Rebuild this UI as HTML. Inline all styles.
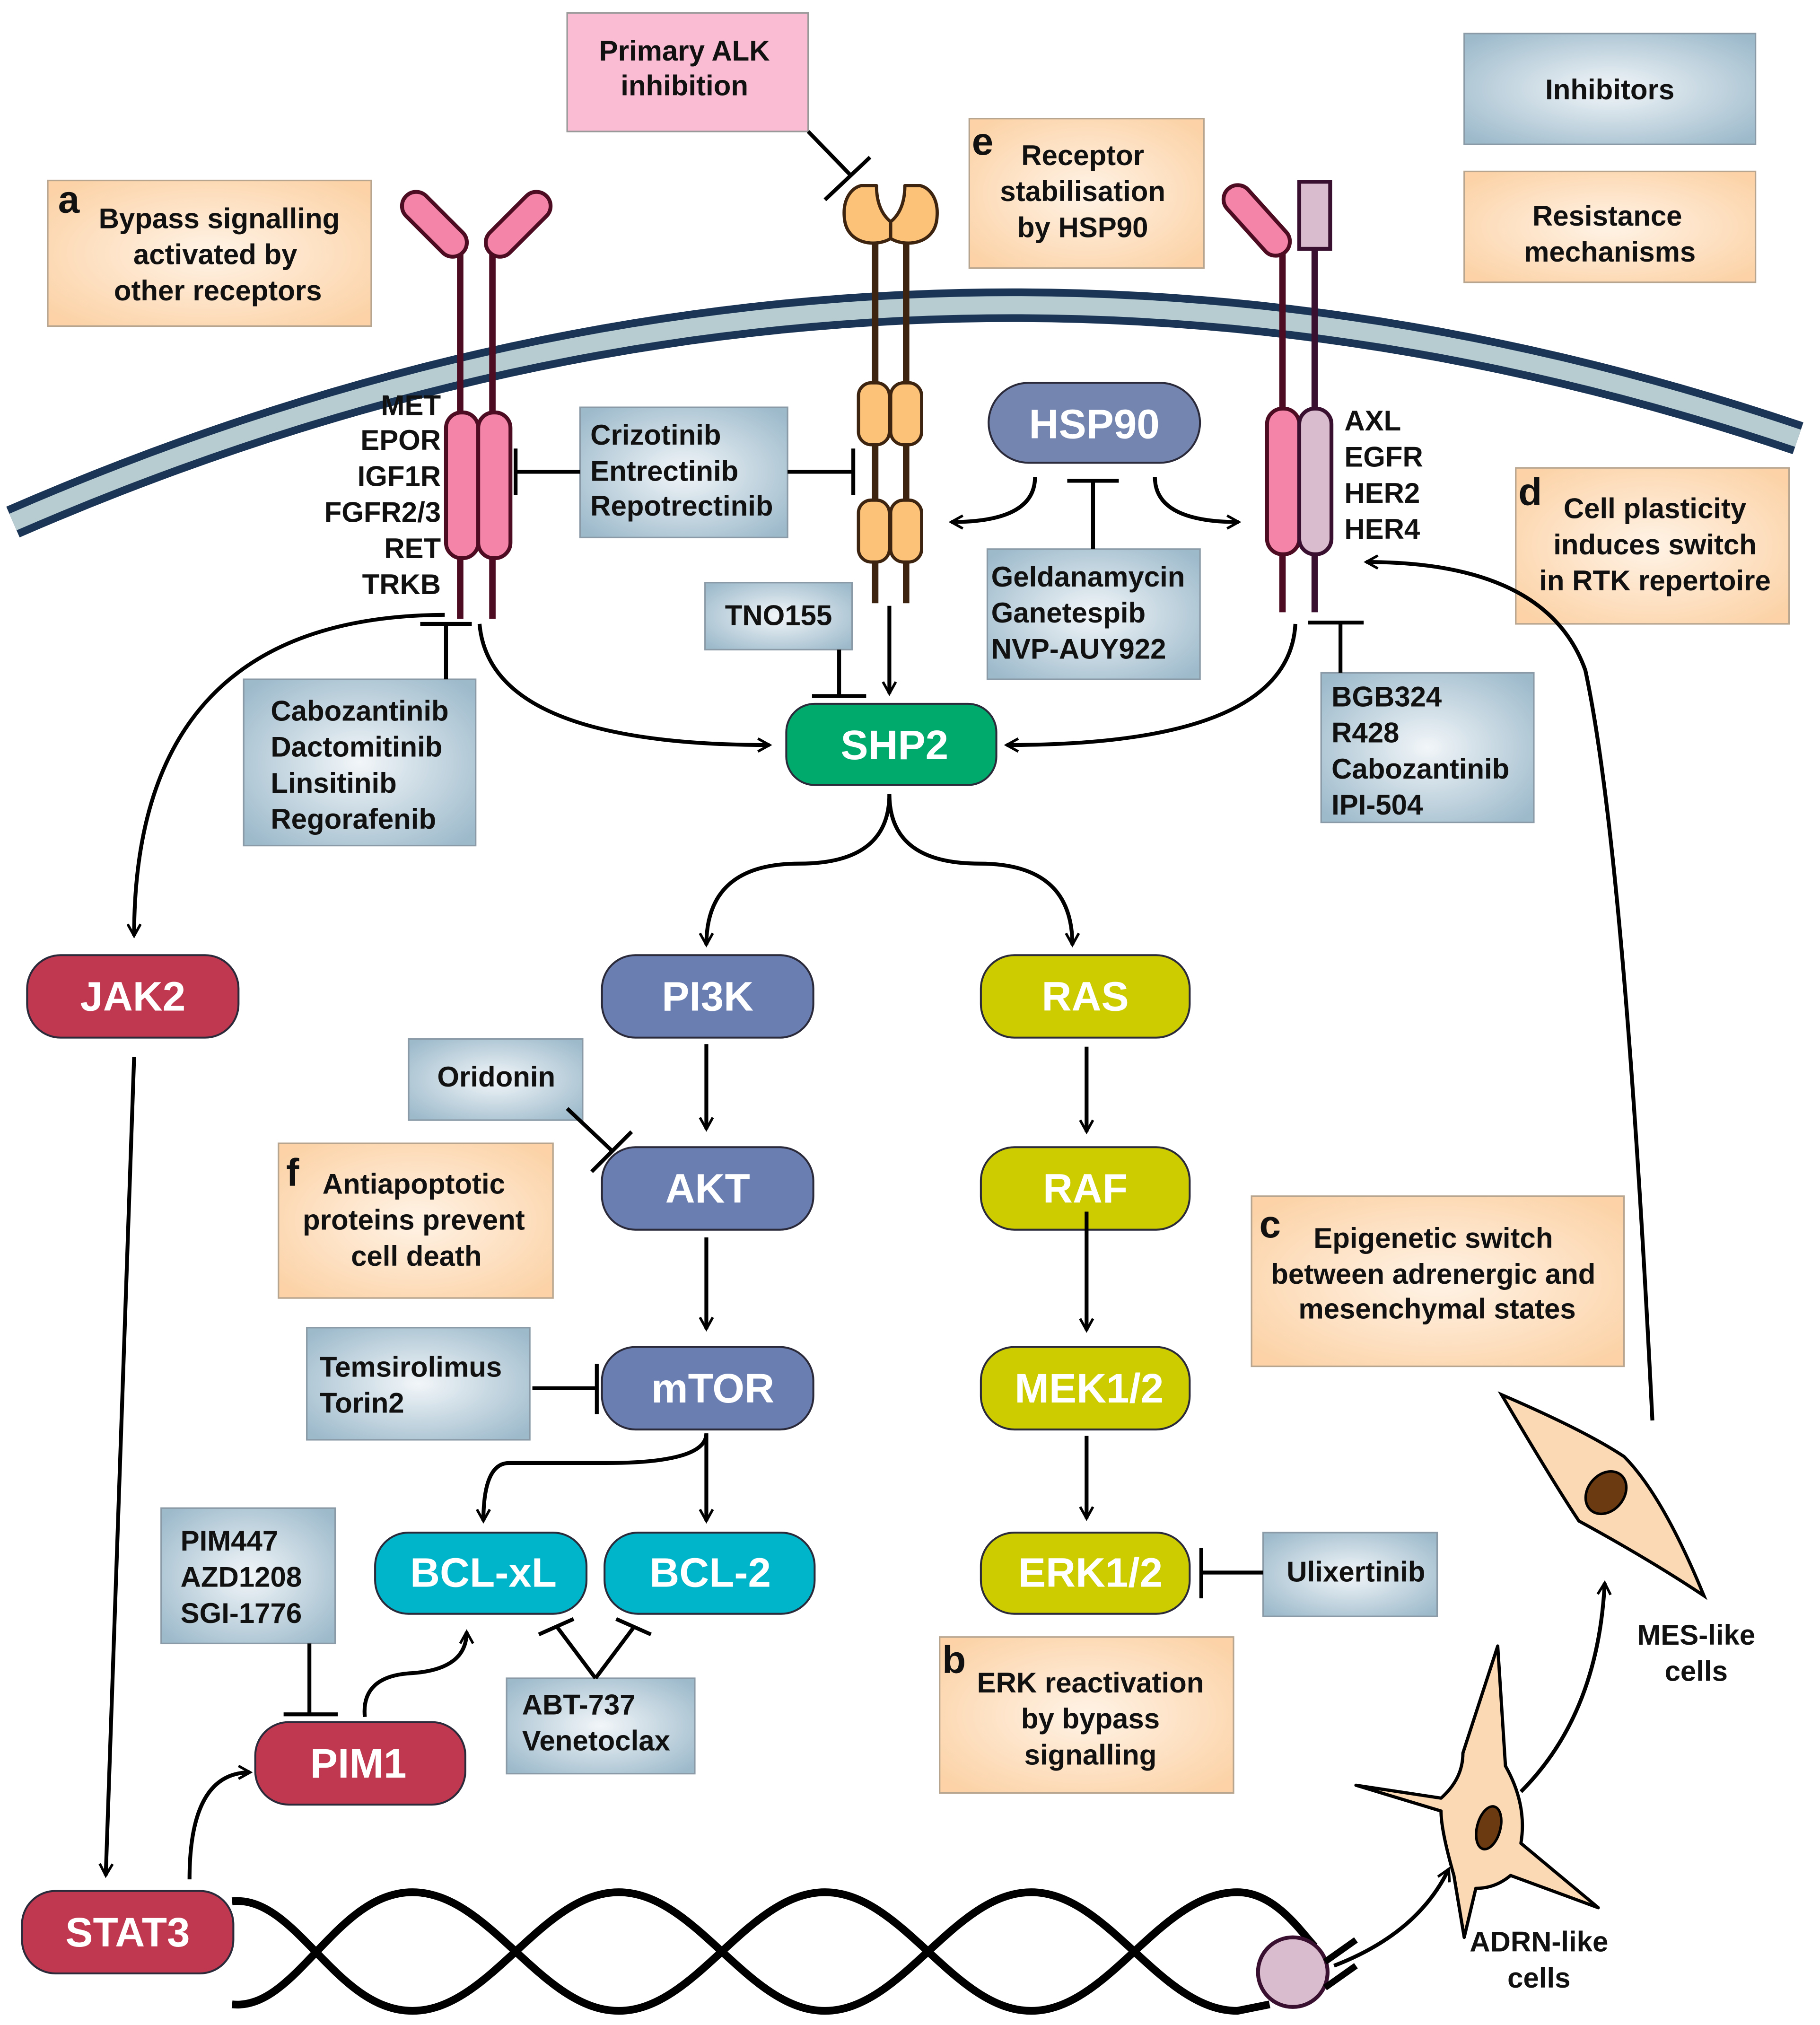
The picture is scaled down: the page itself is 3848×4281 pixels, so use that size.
<!DOCTYPE html>
<html><head><meta charset="utf-8"><style>html,body{margin:0;padding:0;background:#fff}svg{display:block}</style></head><body>
<svg xmlns="http://www.w3.org/2000/svg" width="3848" height="4281" viewBox="0 0 1412 1571" font-family="Liberation Sans, sans-serif">
<defs>
<radialGradient id="gb" cx="50%" cy="50%" r="65%"><stop offset="0" stop-color="#f2f6f9"/><stop offset="1" stop-color="#9dbacb"/></radialGradient>
<radialGradient id="gp" cx="50%" cy="50%" r="65%"><stop offset="0" stop-color="#fff3e6"/><stop offset="1" stop-color="#fcd2a6"/></radialGradient>
<marker id="ar" viewBox="0 0 12 12" refX="10" refY="6" markerWidth="12" markerHeight="12" markerUnits="userSpaceOnUse" orient="auto"><path d="M1,1 L10,6 L1,11" fill="none" stroke="#000" stroke-width="2"/></marker>
</defs>
<style>
.t{font-weight:bold;font-size:22px;fill:#111}
.n{font-weight:bold;font-size:32px;fill:#fff;text-anchor:middle}
.l{font-weight:bold;font-size:30px;fill:#111}
.c{fill:none;stroke:#000;stroke-width:3}
.bb{fill:url(#gb);stroke:#8a9aa6;stroke-width:1.2}
.pb{fill:url(#gp);stroke:#b8a58f;stroke-width:1.2}
</style>
<!-- membrane -->
<path d="M10,405 Q700,105 1395,340" fill="none" stroke="#1b3556" stroke-width="26"/>
<path d="M10,405 Q700,105 1395,340" fill="none" stroke="#b7ccd1" stroke-width="14"/>

<!-- left receptor -->
<g stroke="#4d0c22" stroke-width="5"><line x1="357" y1="195" x2="357" y2="480"/><line x1="382" y1="195" x2="382" y2="480"/></g>
<rect x="306" y="163" width="62" height="22" rx="11" transform="rotate(45 337 174)" fill="#f585a8" stroke="#4d0c22" stroke-width="3"/>
<rect x="371" y="163" width="62" height="22" rx="11" transform="rotate(-45 402 174)" fill="#f585a8" stroke="#4d0c22" stroke-width="3"/>
<rect x="346" y="320" width="25" height="113" rx="12" fill="#f585a8" stroke="#4d0c22" stroke-width="3"/>
<rect x="371" y="320" width="25" height="113" rx="12" fill="#f585a8" stroke="#4d0c22" stroke-width="3"/>
<g class="t" text-anchor="end"><text x="342" y="322">MET</text><text x="342" y="349">EPOR</text><text x="342" y="377">IGF1R</text><text x="342" y="405">FGFR2/3</text><text x="342" y="433">RET</text><text x="342" y="461">TRKB</text></g>

<!-- ALK -->
<g stroke="#3d2410" stroke-width="5"><line x1="679" y1="185" x2="679" y2="468"/><line x1="703" y1="185" x2="703" y2="468"/></g>
<path d="M691,185 C680,192 656,190 655,168 C654,155 660,146 668,144 L680,144 C680,160 686,168 691,172 Z" fill="#fcc378" stroke="#3d2410" stroke-width="2.5" stroke-linejoin="round"/>
<path d="M691,185 C702,192 726,190 727,168 C728,155 722,146 714,144 L702,144 C702,160 696,168 691,172 Z" fill="#fcc378" stroke="#3d2410" stroke-width="2.5" stroke-linejoin="round"/>
<g fill="#fcc378" stroke="#3d2410" stroke-width="2.5">
<rect x="666" y="297" width="24" height="48" rx="10"/><rect x="691" y="297" width="24" height="48" rx="10"/>
<rect x="666" y="388" width="24" height="48" rx="10"/><rect x="691" y="388" width="24" height="48" rx="10"/></g>

<!-- right receptor -->
<g stroke-width="5"><line x1="995" y1="180" x2="995" y2="475" stroke="#4d0c22"/><line x1="1020" y1="185" x2="1020" y2="475" stroke="#3a1030"/></g>
<rect x="942" y="160" width="66" height="22" rx="11" transform="rotate(48 975 171)" fill="#f585a8" stroke="#4d0c22" stroke-width="3"/>
<rect x="1008" y="141" width="24" height="52" fill="#d9bccd" stroke="#3a1030" stroke-width="3"/>
<rect x="983" y="317" width="25" height="113" rx="12" fill="#f585a8" stroke="#4d0c22" stroke-width="3"/>
<rect x="1008" y="317" width="25" height="113" rx="12" fill="#d9bccd" stroke="#3a1030" stroke-width="3"/>
<g class="t"><text x="1043" y="334">AXL</text><text x="1043" y="362">EGFR</text><text x="1043" y="390">HER2</text><text x="1043" y="418">HER4</text></g>

<!-- boxes -->
<rect x="440" y="10" width="187" height="92" fill="#f9bcd2" stroke="#999" stroke-width="1.2"/>
<g class="t" text-anchor="middle"><text x="531" y="47">Primary ALK</text><text x="531" y="74">inhibition</text></g>
<rect x="1136" y="26" width="226" height="86" class="bb"/><text class="t" x="1249" y="77" text-anchor="middle">Inhibitors</text>
<rect x="1136" y="133" width="226" height="86" class="pb"/><g class="t" text-anchor="middle"><text x="1247" y="175">Resistance</text><text x="1249" y="203">mechanisms</text></g>

<rect x="37" y="140" width="251" height="113" class="pb"/>
<text class="l" x="45" y="165">a</text>
<g class="t" text-anchor="middle"><text x="170" y="177">Bypass signalling</text><text x="167" y="205">activated by</text><text x="169" y="233">other receptors</text></g>

<rect x="752" y="92" width="182" height="116" class="pb"/>
<text class="l" x="754" y="120">e</text>
<g class="t" text-anchor="middle"><text x="840" y="128">Receptor</text><text x="840" y="156">stabilisation</text><text x="840" y="184">by HSP90</text></g>

<rect x="1176" y="363" width="212" height="121" class="pb"/>
<text class="l" x="1178" y="392">d</text>
<g class="t" text-anchor="middle"><text x="1284" y="402">Cell plasticity</text><text x="1284" y="430">induces switch</text><text x="1284" y="458">in RTK repertoire</text></g>

<rect x="971" y="928" width="289" height="132" class="pb"/>
<text class="l" x="977" y="960">c</text>
<g class="t" text-anchor="middle"><text x="1112" y="968">Epigenetic switch</text><text x="1112" y="996">between adrenergic and</text><text x="1115" y="1023">mesenchymal states</text></g>

<rect x="216" y="887" width="213" height="120" class="pb"/>
<text class="l" x="222" y="920">f</text>
<g class="t" text-anchor="middle"><text x="321" y="926">Antiapoptotic</text><text x="321" y="954">proteins prevent</text><text x="323" y="982">cell death</text></g>

<rect x="729" y="1270" width="228" height="121" class="pb"/>
<text class="l" x="731" y="1298">b</text>
<g class="t" text-anchor="middle"><text x="846" y="1313">ERK reactivation</text><text x="846" y="1341">by bypass</text><text x="846" y="1369">signalling</text></g>

<rect x="450" y="316" width="161" height="101" class="bb"/>
<g class="t"><text x="458" y="345">Crizotinib</text><text x="458" y="373">Entrectinib</text><text x="458" y="400">Repotrectinib</text></g>
<rect x="547" y="452" width="114" height="52" class="bb"/><text class="t" x="604" y="485" text-anchor="middle">TNO155</text>
<rect x="766" y="426" width="165" height="101" class="bb"/>
<g class="t"><text x="769" y="455">Geldanamycin</text><text x="769" y="483">Ganetespib</text><text x="769" y="511">NVP-AUY922</text></g>
<rect x="189" y="527" width="180" height="129" class="bb"/>
<g class="t"><text x="210" y="559">Cabozantinib</text><text x="210" y="587">Dactomitinib</text><text x="210" y="615">Linsitinib</text><text x="210" y="643">Regorafenib</text></g>
<rect x="1025" y="522" width="165" height="116" class="bb"/>
<g class="t"><text x="1033" y="548">BGB324</text><text x="1033" y="576">R428</text><text x="1033" y="604">Cabozantinib</text><text x="1033" y="632">IPI-504</text></g>
<rect x="317" y="806" width="135" height="63" class="bb"/><text class="t" x="385" y="843" text-anchor="middle">Oridonin</text>
<rect x="238" y="1030" width="173" height="87" class="bb"/>
<g class="t"><text x="248" y="1068">Temsirolimus</text><text x="248" y="1096">Torin2</text></g>
<rect x="125" y="1170" width="135" height="105" class="bb"/>
<g class="t"><text x="140" y="1203">PIM447</text><text x="140" y="1231">AZD1208</text><text x="140" y="1259">SGI-1776</text></g>
<rect x="393" y="1302" width="146" height="74" class="bb"/>
<g class="t"><text x="405" y="1330">ABT-737</text><text x="405" y="1358">Venetoclax</text></g>
<rect x="980" y="1189" width="135" height="65" class="bb"/><text class="t" x="1052" y="1227" text-anchor="middle">Ulixertinib</text>

<!-- nodes -->
<g stroke="#2a2a3a" stroke-width="1.5">
<rect x="767" y="297" width="164" height="62" rx="31" fill="#7485b0"/>
<rect x="610" y="546" width="163" height="63" rx="22" fill="#00aa6c"/>
<rect x="21" y="741" width="164" height="64" rx="26" fill="#c0384f"/>
<rect x="467" y="741" width="164" height="64" rx="26" fill="#6a7eb2"/>
<rect x="761" y="741" width="162" height="64" rx="26" fill="#cccc00"/>
<rect x="467" y="890" width="164" height="64" rx="26" fill="#6a7eb2"/>
<rect x="761" y="890" width="162" height="64" rx="26" fill="#cccc00"/>
<rect x="467" y="1045" width="164" height="64" rx="26" fill="#6a7eb2"/>
<rect x="761" y="1045" width="162" height="64" rx="26" fill="#cccc00"/>
<rect x="291" y="1189" width="164" height="63" rx="26" fill="#00b5c9"/>
<rect x="469" y="1189" width="163" height="63" rx="26" fill="#00b5c9"/>
<rect x="761" y="1189" width="162" height="63" rx="26" fill="#cccc00"/>
<rect x="198" y="1336" width="163" height="64" rx="26" fill="#c0384f"/>
<rect x="17" y="1467" width="164" height="64" rx="26" fill="#c0384f"/>
</g>
<g class="n">
<text x="849" y="340">HSP90</text><text x="694" y="589">SHP2</text><text x="103" y="784">JAK2</text>
<text x="549" y="784">PI3K</text><text x="842" y="784">RAS</text><text x="549" y="933">AKT</text><text x="842" y="933">RAF</text>
<text x="553" y="1088">mTOR</text><text x="845" y="1088">MEK1/2</text><text x="375" y="1231">BCL-xL</text><text x="551" y="1231">BCL-2</text>
<text x="846" y="1231">ERK1/2</text><text x="278" y="1379">PIM1</text><text x="99" y="1510">STAT3</text></g>

<!-- connectors -->
<g class="c">
<path d="M627,102 L660,136"/><path d="M640,155 L675,122"/>
<path d="M450,366 L400,366"/><path d="M400,348 L400,384"/>
<path d="M611,366 L662,366"/><path d="M662,348 L662,384"/>
<path d="M803,370 Q803,405 738,405" marker-end="url(#ar)"/>
<path d="M896,370 Q896,405 961,405" marker-end="url(#ar)"/>
<path d="M848,426 L848,373"/><path d="M828,373 L868,373"/>
<path d="M651,504 L651,540"/><path d="M630,540 L672,540"/>
<path d="M690,470 L690,538" marker-end="url(#ar)"/>
<path d="M372,484 Q380,578 597,578" marker-end="url(#ar)"/>
<path d="M1005,484 Q1000,578 781,578" marker-end="url(#ar)"/>
<path d="M346,527 L346,484"/><path d="M326,484 L366,484"/>
<path d="M345,477 Q104,478 104,726" marker-end="url(#ar)"/>
<path d="M1040,522 L1040,483"/><path d="M1015,483 L1058,483"/>
<path d="M690,616 Q690,670 620,670 Q548,670 548,733" marker-end="url(#ar)"/>
<path d="M690,616 Q690,670 760,670 Q832,670 832,733" marker-end="url(#ar)"/>
<path d="M548,810 L548,876" marker-end="url(#ar)"/>
<path d="M843,812 L843,878" marker-end="url(#ar)"/>
<path d="M548,960 L548,1031" marker-end="url(#ar)"/>
<path d="M843,940 L843,1032" marker-end="url(#ar)"/>
<path d="M843,1114 L843,1178" marker-end="url(#ar)"/>
<path d="M440,860 L475,893"/><path d="M459,909 L490,878"/>
<path d="M413,1077 L463,1077"/><path d="M463,1058 L463,1097"/>
<path d="M548,1112 Q548,1135 470,1135 L395,1135 Q375,1135 375,1180" marker-end="url(#ar)"/>
<path d="M548,1112 L548,1180" marker-end="url(#ar)"/>
<path d="M462,1302 L432,1262 M462,1302 L492,1262"/><path d="M418,1268 L445,1256 M478,1256 L505,1268"/>
<path d="M240,1275 L240,1330"/><path d="M220,1330 L262,1330"/>
<path d="M283,1332 Q280,1300 320,1298 Q362,1295 362,1266" marker-end="url(#ar)"/>
<path d="M980,1220 L932,1220"/><path d="M932,1201 L932,1240"/>
<path d="M104,820 L82,1455" marker-end="url(#ar)"/>
<path d="M147,1458 Q147,1375 194,1375" marker-end="url(#ar)"/>
<path d="M1035,1525 Q1100,1500 1124,1450" marker-end="url(#ar)"/>
<path d="M1180,1390 Q1240,1330 1245,1228" marker-end="url(#ar)"/>
<path d="M1282,1102 Q1260,660 1230,520 Q1200,436 1060,436" marker-end="url(#ar)"/>
</g>

<!-- DNA -->
<g fill="none" stroke="#000" stroke-width="6">
<path d="M180,1475 C230,1470 260,1560 320,1560 C380,1560 420,1468 480,1468 C540,1468 580,1560 640,1560 C700,1560 740,1468 800,1468 C860,1468 900,1560 960,1560 L985,1555"/>
<path d="M180,1555 C230,1560 260,1468 320,1468 C380,1468 420,1560 480,1560 C540,1560 580,1468 640,1468 C700,1468 740,1560 800,1560 C860,1560 900,1468 960,1468 C990,1468 1010,1500 1020,1510"/>
</g>
<circle cx="1003" cy="1530" r="27" fill="#d9bccd" stroke="#3a1030" stroke-width="3"/>
<g stroke="#000" stroke-width="5"><path d="M1028,1522 L1052,1505 M1028,1542 L1052,1525"/></g>

<!-- cells -->
<path d="M1052,1385 L1118,1395 Q1135,1380 1135,1360 L1162,1277 L1168,1370 Q1185,1400 1180,1430 L1240,1480 L1172,1455 Q1160,1465 1145,1465 L1136,1503 L1128,1455 Q1118,1420 1118,1405 Z" fill="#fbd9b5" stroke="#000" stroke-width="2.5" stroke-linejoin="round"/>
<ellipse cx="1155" cy="1418" rx="9" ry="17" transform="rotate(15 1155 1418)" fill="#6b3a10" stroke="#000" stroke-width="2"/>
<path d="M1165,1082 Q1230,1110 1260,1130 Q1290,1160 1322,1238 Q1280,1210 1225,1180 Q1205,1150 1165,1082 Z" fill="#fbd9b5" stroke="#000" stroke-width="2.5"/>
<ellipse cx="1246" cy="1158" rx="14" ry="18" transform="rotate(40 1246 1158)" fill="#6b3a10" stroke="#000" stroke-width="2"/>
<g class="t" text-anchor="middle"><text x="1316" y="1276">MES-like</text><text x="1316" y="1304">cells</text><text x="1194" y="1514">ADRN-like</text><text x="1194" y="1542">cells</text></g>
</svg>
</body></html>
